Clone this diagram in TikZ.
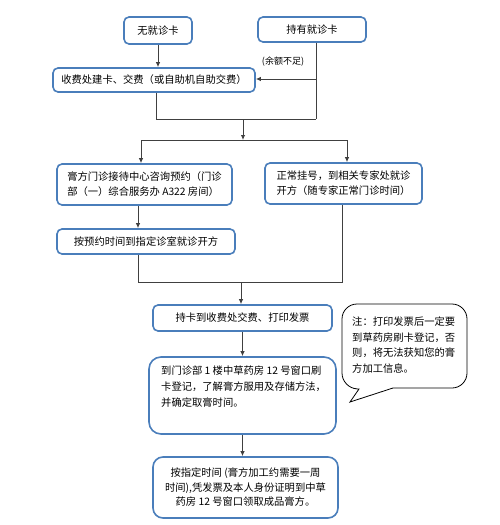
\documentclass[tikz,border=0pt]{standalone}
\usepackage{fontspec}
\setmainfont{Noto Sans CJK SC}
\usetikzlibrary{arrows.meta}
\definecolor{boxblue}{HTML}{4A7EBB}
\definecolor{linegray}{HTML}{404040}
\tikzset{
  flowbox/.style={draw=boxblue, line width=1.6pt, rounded corners=5pt, inner sep=0pt,
    font=\fontsize{10.3}{15}\selectfont, text=black},
  plaintext/.style={inner sep=0pt, text=black},
  conn/.style={draw=linegray, line width=0.9pt},
  arr/.style={conn, -{Latex[length=5pt,width=4.5pt]}},
}
\begin{document}
\begin{tikzpicture}[x=1pt,y=-1pt]
\fill[white] (0,0) rectangle (500,525);
\useasboundingbox (0,0) rectangle (500,525);

\node[flowbox, minimum width=68pt, minimum height=27pt] (b1) at (158,30.5) {无就诊卡};
\node[flowbox, minimum width=108pt, minimum height=25pt] (b2) at (312,29.5) {持有就诊卡};
\node[flowbox, minimum width=202pt, minimum height=24pt] (b3) at (154,80) {收费处建卡、交费（或自助机自助交费）};
\node[plaintext, font=\fontsize{9}{11}\selectfont] (lbl) at (283,62) {(余额不足)};

\node[flowbox, minimum width=175pt, minimum height=41pt, align=left] (b4) at (144.5,184.5)
  {膏方门诊接待中心咨询预约（门诊\\部（一）综合服务办 A322 房间）};
\node[flowbox, minimum width=157pt, minimum height=41pt, align=left] (b5) at (343.5,183.5)
  {正常挂号，到相关专家处就诊\\开方（随专家正常门诊时间）};
\node[flowbox, minimum width=178pt, minimum height=25pt] (b6) at (146,241.5) {按预约时间到指定诊室就诊开方};
\node[flowbox, minimum width=179pt, minimum height=26pt] (b7) at (242.5,318) {持卡到收费处交费、打印发票};
\node[flowbox, rounded corners=12pt, minimum width=187pt, minimum height=77pt] (b8) at (242.5,395.5) {};
\node[plaintext, anchor=north west, align=left, font=\fontsize{10.3}{16}\selectfont] (t8) at (161,366)
  {到门诊部 1 楼中草药房 12 号窗口刷\\卡登记，了解膏方服用及存储方法，\\并确定取膏时间。};
\node[flowbox, rounded corners=10pt, minimum width=185pt, minimum height=61pt, align=center,
  font=\fontsize{10.3}{14.5}\selectfont] (b9) at (245.5,487.5)
  {按指定时间 (膏方加工约需要一周\\时间),凭发票及本人身份证明到中草\\药房 12 号窗口领取成品膏方。};

% callout bubble
\draw[black, line width=0.8pt] (350,402) -- (393,388)
  {[rounded corners=15pt] -- (467,388) -- (467,304) -- (342,304) -- (342,388)} -- (359,389) -- cycle;
\node[plaintext, anchor=north west, align=left, font=\fontsize{10.3}{15.5}\selectfont] (note) at (352,317)
  {注：打印发票后一定要\\到草药房刷卡登记，否\\则，将无法获知您的膏\\方加工信息。};

% connectors
\coordinate (j2) at (316,119);
\coordinate (j2b) at (316,79);
\coordinate (j3) at (156,119);
\coordinate (m1) at (243,119);
\coordinate (m2) at (243,140);
\coordinate (l1) at (141,140);
\coordinate (r1) at (347,140);
\coordinate (j6) at (138,282);
\coordinate (j5) at (342,282);
\coordinate (m3) at (241,282);

\draw[arr] (b1.south) -- (b1.south |- b3.north);
\draw[conn] (b2.south -| j2) -- (j2);
\draw[arr] (j2b) -- (j2b -| b3.east);
\draw[conn] (b3.south -| j3) -- (j3) -- (j2);
\draw[arr] (m1) -- (m2);
\draw[conn] (l1) -- (r1);
\draw[arr] (l1) -- (l1 |- b4.north);
\draw[arr] (r1) -- (r1 |- b5.north);
\draw[arr] (b4.south -| j6) -- (b6.north -| j6);
\draw[conn] (b6.south -| j6) -- (j6) -- (j5) -- (b5.south -| j5);
\draw[arr] (m3) -- (m3 |- b7.north);
\draw[arr] (b7.south) -- (b7.south |- b8.north);
\draw[arr] (b8.south) -- (b8.south |- b9.north);
\end{tikzpicture}
\end{document}
